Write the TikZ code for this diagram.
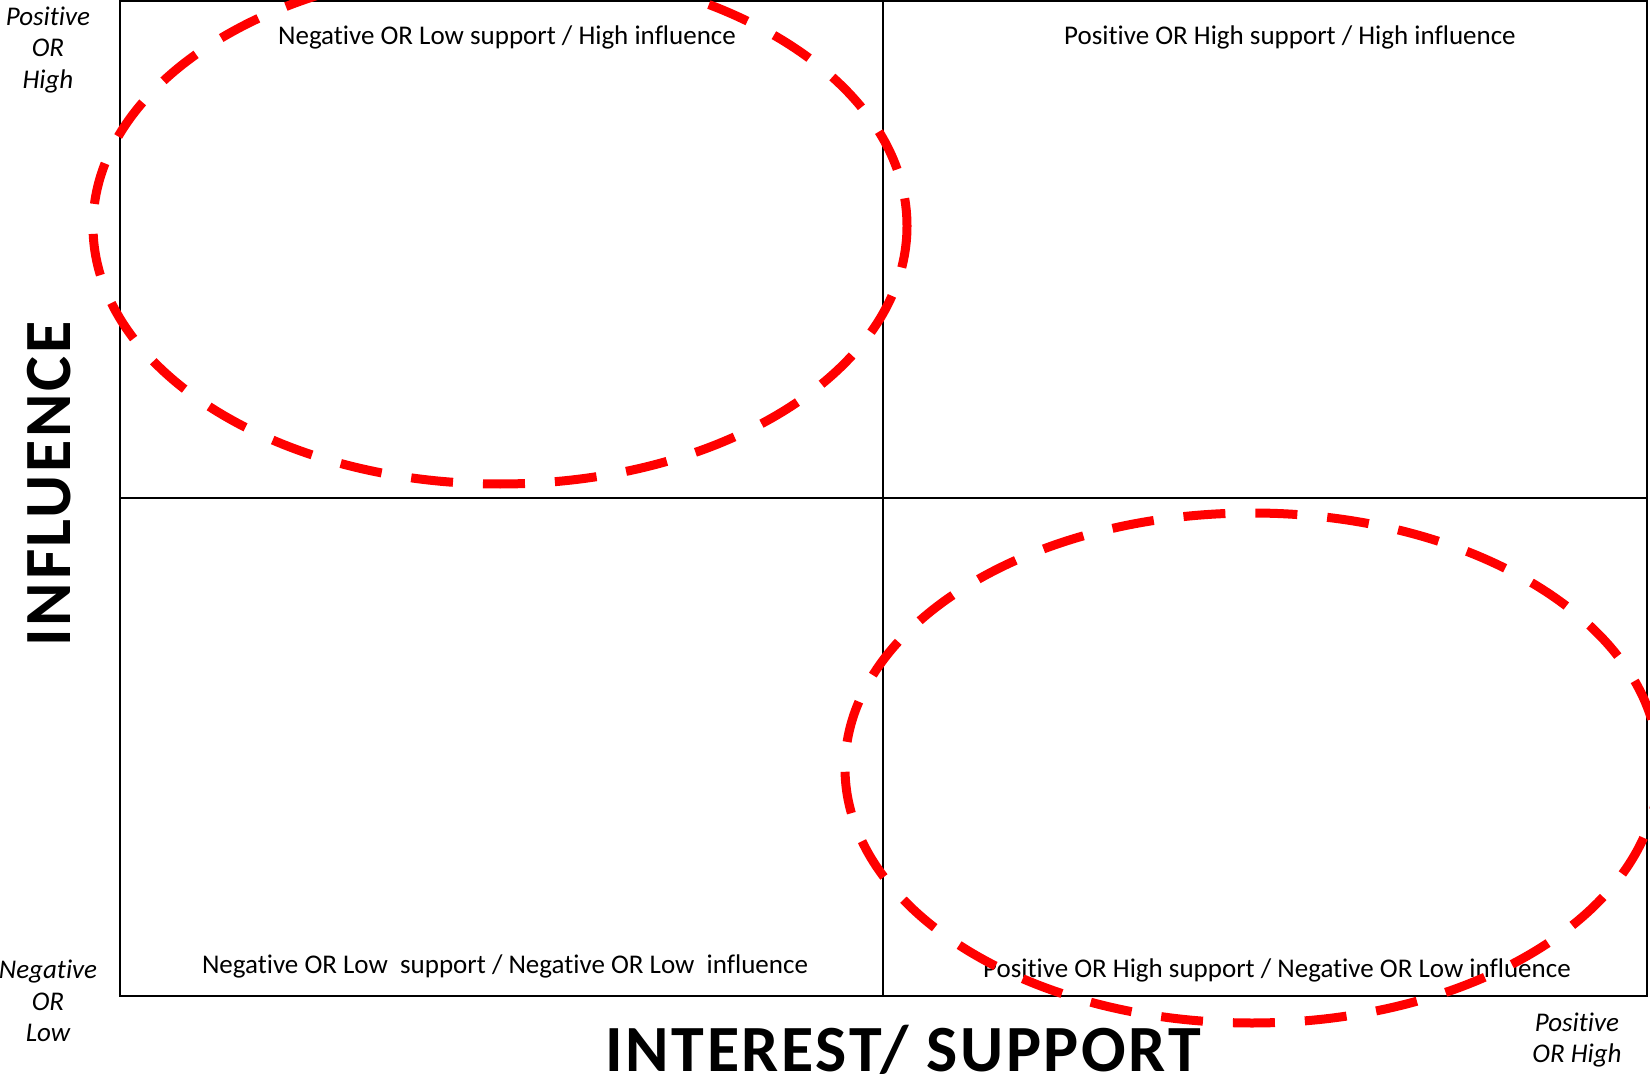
\documentclass[tikz,border=0pt]{standalone}
\usepackage{fontspec}
\setmainfont{Carlito}[Ligatures=NoCommon]
\newfontfamily\ejefont{Carlito}[Ligatures=NoCommon, LetterSpace=4]
\tikzset{
  cuadro/.style={line width=2pt},
  zona/.style={draw=red, line width=9pt, dash pattern=on 42pt off 30pt},
  etiqueta/.style={font=\fontsize{27}{31.5}\selectfont, inner sep=0pt},
  extremo/.style={font=\fontsize{27}{31.5}\selectfont\itshape, align=center, inner sep=0pt},
  eje/.style={font=\ejefont\fontsize{66}{70}\selectfont\bfseries, inner sep=0pt}
}
\begin{document}
\begin{tikzpicture}[x=1pt,y=-1pt]
    \useasboundingbox (0,0) rectangle (1650,1083);
    \clip (0,0) rectangle (1650,1083);

    % Cuadrantes
    \coordinate (so) at (120,996);
    \coordinate (ne) at (1647,1);
    \draw[cuadro] (so) rectangle (ne);
    \draw[cuadro] (883,1) -- (883,996);
    \draw[cuadro] (120,498) -- (1647,498);

    % Textos de los cuadrantes
    \node[etiqueta] (q1) at (507,37) {Negative OR Low support / High influence};
    \node[etiqueta] (q2) at (1290,37) {Positive OR High support / High influence};
    \node[etiqueta] (q3) at (505,966) {Negative OR Low\ \ support / Negative OR Low\ \ influence};
    \node[etiqueta] (q4) at (1277,970) {Positive OR High support / Negative OR Low influence};

    % Extremos de los ejes
    \node[extremo] (altoy) at (48,50) {Positive\\OR\\High};
    \node[extremo] (bajo) at (48,1001) {Negative\\OR\\Low};
    \node[extremo] (altox) at (1577,1040) {Positive\\OR High};

    % Nombres de los ejes
    \node[eje, rotate=90] (influencia) at (49,484) {INFLUENCE};
    \node[eje] (interes) at (903,1050) {INTEREST/ SUPPORT};

    % Elipses punteadas
    \draw[zona] (500,226) ellipse [x radius=407, y radius=258];
    \draw[zona] (1252,768) ellipse [x radius=407, y radius=255];
\end{tikzpicture}
\end{document}
